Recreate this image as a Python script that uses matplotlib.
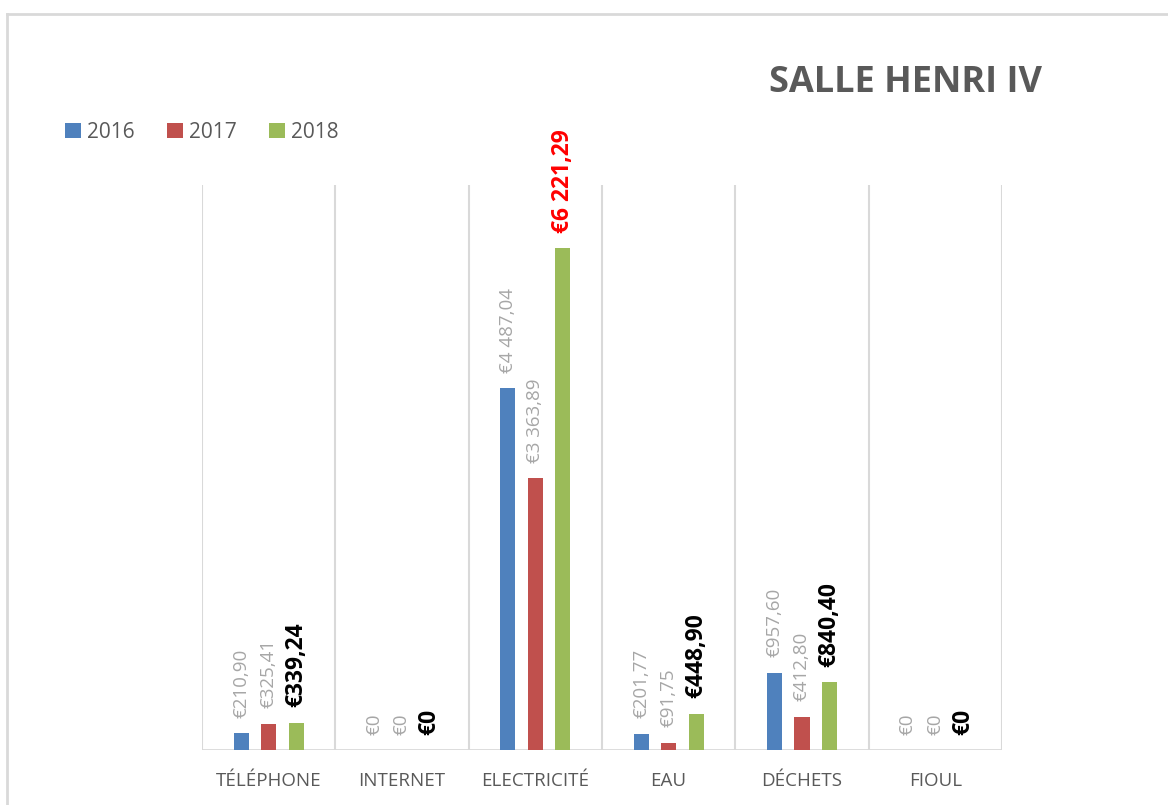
import numpy as np
import matplotlib
matplotlib.use('Agg')
import matplotlib.pyplot as plt
from matplotlib.lines import Line2D
from matplotlib.patches import Patch

plt.rcParams['font.family'] = ['Open Sans', 'DejaVu Sans']

categories = ['TÉLÉPHONE', 'INTERNET', 'ELECTRICITÉ', 'EAU', 'DÉCHETS', 'FIOUL']
years = ['2016', '2017', '2018']
v2016 = [210.90, 0, 4487.04, 201.77, 957.60, 0]
v2017 = [325.41, 0, 3363.89, 91.75, 412.80, 0]
v2018 = [339.24, 0, 6221.29, 448.90, 840.40, 0]
colors = ['#4F81BD', '#C0504D', '#9BBB59']


def euro(v):
    """Format français : €4 487,04"""
    if v == 0:
        return '€0'
    s = f'{v:,.2f}'
    return '€' + s.replace(',', ' ').replace('.', ',')


fig = plt.figure(figsize=(11.68, 8.05), dpi=100)
ax = fig.add_axes([202 / 1168, 55 / 805, 800 / 1168, 565 / 805])

x = np.arange(len(categories))
offset = 0.207
width = 0.113
series = [v2016, v2017, v2018]

for i, vals in enumerate(series):
    pos = x + (i - 1) * offset
    ax.bar(pos, vals, width, color=colors[i], zorder=3)
    for xp, v in zip(pos, vals):
        if i < 2:
            col, fw, fs = '#A6A6A6', 'normal', 13.5
        else:
            col, fw, fs = ('#FF0000' if v == max(v2018) else 'black'), 'bold', 16.5
        ax.annotate(euro(v), (xp, v), xytext=(0, 11), textcoords='offset points',
                    rotation=90, ha='center', va='bottom', color=col,
                    fontsize=fs, fontweight=fw)

# séparateurs de catégories
for b in np.arange(-0.5, len(categories), 1.0):
    ax.axvline(b, color='#D9D9D9', lw=1.5, zorder=1)
ax.axhline(0, color='#D9D9D9', lw=2, zorder=2)

ax.set_xlim(-0.5, len(categories) - 0.5)
ax.set_ylim(0, 7000)
ax.set_yticks([])
ax.set_xticks(x)
ax.set_xticklabels(categories, fontsize=13.5, color='#595959')
ax.tick_params(axis='x', length=0, pad=16)
for sp in ax.spines.values():
    sp.set_visible(False)

# titre
fig.text(1042 / 1168, 1 - 83 / 805, 'SALLE HENRI IV', ha='right', va='center',
         fontsize=26, fontweight='bold', color='#595959')

# légende
handles = [Patch(facecolor=c) for c in colors]
fig.legend(handles, years, loc='center left', bbox_to_anchor=(57 / 1168, 1 - 132 / 805),
           ncol=3, frameon=False, handlelength=0.75, handleheight=0.75,
           columnspacing=1.55, handletextpad=0.3, borderaxespad=0,
           fontsize=15, labelcolor='#595959')

# cadre du graphique
fig.add_artist(Line2D([7 / 1168, 1], [1 - 14 / 805, 1 - 14 / 805], color='#D9D9D9', lw=2))
fig.add_artist(Line2D([7 / 1168, 7 / 1168], [0, 1 - 14 / 805], color='#D9D9D9', lw=2))

fig.savefig('out.png', dpi=100)
